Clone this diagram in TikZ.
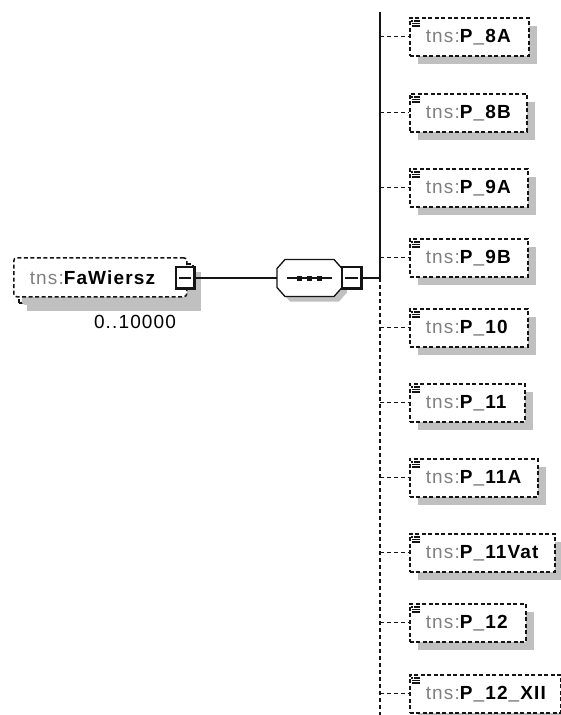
\documentclass[tikz,border=0pt]{standalone}
\usepackage{fontspec}
\setmainfont{Liberation Sans}[LetterSpace=6]
\usepackage{tikz}
\usepackage{xcolor}
\usetikzlibrary{positioning, calc, shadows}
\definecolor{cTns}{RGB}{128,128,128}
\definecolor{cShadow}{RGB}{192,192,192}
\definecolor{cLine}{RGB}{20,20,20}
\newcommand{\tnsname}[1]{{\color{cTns}tns:}\textbf{#1}}
\tikzset{
    elbox/.style   ={rectangle, draw=cLine, fill=white, line width=1.5pt, dash pattern=on 4pt off 2.5pt, minimum height=38pt, inner ysep=0pt, inner xsep=16pt, align=left, drop shadow={shadow xshift=8pt, shadow yshift=-8pt, opacity=1, fill=cShadow}},
    octline/.style ={draw=cLine, fill=white, line width=1.3pt},
    togbox/.style  ={rectangle, draw=cLine, fill=white, line width=1.4pt, minimum width=19pt, minimum height=22pt, inner sep=0pt,
        path picture={
            \draw[line width=4pt] (path picture bounding box.north east) -- (path picture bounding box.south east) -- (path picture bounding box.south west);
            \draw[line width=1.2pt] ([xshift=3pt]path picture bounding box.west) -- ([xshift=-4pt]path picture bounding box.east);
        }},
    conn/.style    ={line width=1.3pt, draw=cLine},
    dashconn/.style={line width=1.2pt, draw=cLine, dash pattern=on 4pt off 3pt},
    icon/.style    ={line width=1.1pt, draw=cLine},
}

\begin{document}
\begin{tikzpicture}[x=1pt, y=-1pt, every node/.style={font=\fontsize{19}{22}\selectfont}]
    \useasboundingbox (0,0) rectangle (561,715);
    % element with occurrences
    \node[elbox, minimum width=174pt, minimum height=39pt, anchor=north west] (fwback) at (18,263) {};
    \node[elbox, drop shadow={opacity=0}, rounded corners=3pt, text width=141pt, minimum height=39pt, anchor=north west] (fw) at (13,257) {\tnsname{FaWiersz}};
    \node[togbox] (fwtog) at (185.5,278) {};
    \node (occ) at (135,322) {0..10000};
    % sequence
    \node[minimum width=65pt, minimum height=37pt, inner sep=0pt] (seq) at (309.5,278) {};
    \begin{scope}[shift={(seq.center)}]
        \fill[cShadow] (-27.5,-4.5) -- (-19.5,-13.5) -- (29.5,-13.5) -- (37.5,-4.5) -- (37.5,14.5) -- (29.5,23.5) -- (-19.5,23.5) -- (-27.5,14.5) -- cycle;
        \draw[octline] (-32.5,-9.5) -- (-24.5,-18.5) -- (24.5,-18.5) -- (32.5,-9.5) -- (32.5,9.5) -- (24.5,18.5) -- (-24.5,18.5) -- (-32.5,9.5) -- cycle;
    \end{scope}
    \draw[conn] ([xshift=10pt]seq.west) -- ([xshift=-10pt]seq.east);
    \foreach \dx in {-10,0,10} {
        \fill[cLine] ([xshift=\dx pt]seq.center) +(-2.5,-2.5) rectangle +(2.5,2.5);
    }
    \node[togbox, minimum width=20pt] (seqtog) at (352,278) {};
    \coordinate (trtop) at (380,12);
    \coordinate (trjoin) at (380,278);
    \coordinate (trbot) at (380,715);
    \draw[conn] (fwtog.east) -- (seq.west);
    \draw[conn] (seqtog.east) -- (trjoin);
    \draw[conn, line width=1.5pt] (trtop) -- (trjoin);
    \draw[dashconn, line width=1.5pt] (trjoin) -- (trbot);
    % child elements
    \foreach \nm/\ty/\bw [count=\i] in {P\_8A/17/119, P\_8B/93/117, P\_9A/168/118, P\_9B/238/118, P\_10/308/118,
                                        P\_11/383/115, P\_11A/458/128, P\_11Vat/533/145, P\_12/603/116, P\_12\_XII/674/151} {
        \pgfmathsetmacro{\tw}{\bw-32}
        \node[elbox, text width=\tw pt, anchor=north west] (el\i) at (409,\ty) {\tnsname{\nm}};
        \draw[dashconn] (el\i.west -| trtop) -- (el\i.west);
        \draw[icon] ([shift={(2,4)}]el\i.north west) -- ++(2,0);
        \draw[icon] ([shift={(5,4)}]el\i.north west) -- ++(6,0);
        \draw[icon] ([shift={(3,6.5)}]el\i.north west) -- ++(8,0);
        \draw[icon] ([shift={(3,9)}]el\i.north west) -- ++(8,0);
    }
\end{tikzpicture}
\end{document}
